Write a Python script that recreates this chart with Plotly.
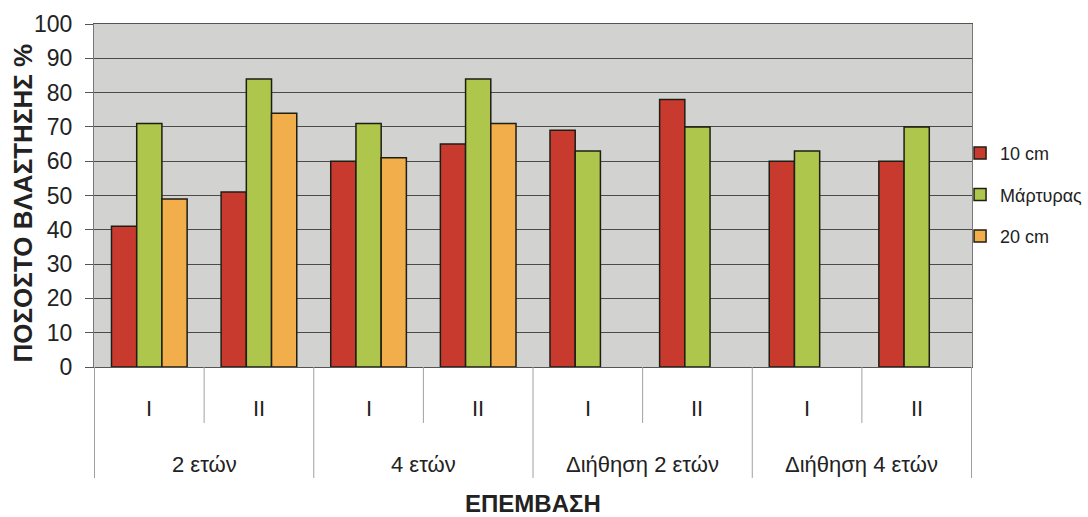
import plotly.graph_objects as go

outer_groups = ["2 ετών", "4 ετών", "Διήθηση 2 ετών", "Διήθηση 4 ετών"]
inner_labels = ["I", "II", "I", "II", "I", "II", "I", "II"]
categories = ["2 ετών I", "2 ετών II", "4 ετών I", "4 ετών II",
              "Διήθηση 2 ετών I", "Διήθηση 2 ετών II", "Διήθηση 4 ετών I", "Διήθηση 4 ετών II"]

series_names = ["10 cm", "Μάρτυρας", "20 cm"]
vals_10cm = [41, 51, 60, 65, 69, 78, 60, 60]
vals_martyras = [71, 84, 71, 84, 63, 70, 63, 70]
vals_20cm = [49, 74, 61, 71, None, None, None, None]
colors = ["#C93A2E", "#AFC64C", "#F2AE4A"]

FONT = "Liberation Sans, Arial, sans-serif"
TXT = "#222222"

fig = go.Figure()
for i, (name, vals, col) in enumerate(zip(series_names, [vals_10cm, vals_martyras, vals_20cm], colors)):
    fig.add_trace(go.Bar(
        x=categories, y=vals, name=name, legendgroup=f"g{i}",
        marker=dict(color=col, line=dict(color="#1E1E14", width=1.5)),
    ))

short_len = -0.163
long_len = -0.3236
shapes = []
n = len(categories)
for k in range(n + 1):
    xb = k - 0.5
    is_group_edge = (k % 2 == 0)
    shapes.append(dict(type="line", xref="x", yref="paper", x0=xb, x1=xb,
                       y0=0, y1=long_len if is_group_edge else short_len,
                       line=dict(color="#A0A0A0", width=1)))

annotations = []
for k, lab in enumerate(inner_labels):
    annotations.append(dict(x=k, y=-0.12, xref="x", yref="paper", text=lab,
                            showarrow=False, xanchor="center", yanchor="middle",
                            font=dict(size=22, family=FONT, color=TXT)))
for g, lab in enumerate(outer_groups):
    annotations.append(dict(x=2 * g + 0.5, y=-0.283, xref="x", yref="paper", text=lab,
                            showarrow=False, xanchor="center", yanchor="middle",
                            font=dict(size=22, family=FONT, color=TXT)))
annotations.append(dict(x=0.5, y=-0.398, xref="paper", yref="paper", text="<b>ΕΠΕΜΒΑΣΗ</b>",
                        showarrow=False, xanchor="center", yanchor="middle",
                        font=dict(size=24, family=FONT, color=TXT)))
annotations.append(dict(x=-0.0803, y=0.478, xref="paper", yref="paper",
                        text="<b>ΠΟΣΟΣΤΟ ΒΛΑΣΤΗΣΗΣ %</b>", textangle=-90,
                        showarrow=False, xanchor="center", yanchor="middle",
                        font=dict(size=26, family=FONT, color=TXT)))

fig.update_layout(
    width=1088, height=517,
    margin=dict(l=94, r=116, t=24, b=150, autoexpand=False),
    paper_bgcolor="white",
    plot_bgcolor="#D2D3D1",
    barmode="group", bargap=0.31, bargroupgap=0,
    font=dict(family=FONT, size=20, color=TXT),
    legend=dict(xref="container", yref="container", x=0.8824, y=0.623,
                xanchor="left", yanchor="middle",
                font=dict(size=18, family=FONT, color=TXT),
                itemwidth=30, tracegroupgap=15, bgcolor="rgba(0,0,0,0)"),
    showlegend=True,
    shapes=shapes,
    annotations=annotations,
)
fig.update_yaxes(
    range=[0, 100], dtick=10, showgrid=True, gridcolor="#4A4A4A", gridwidth=1,
    ticks="outside", ticklen=8, tickcolor="#555", showline=True, linecolor="#777",
    mirror=True, zeroline=False, ticklabelstandoff=8,
    tickfont=dict(size=23, family=FONT, color=TXT),
)
fig.update_xaxes(
    type="category", showline=True, linecolor="#555", mirror=True,
    showticklabels=False, ticks="",
)

fig.write_html("out.html")
